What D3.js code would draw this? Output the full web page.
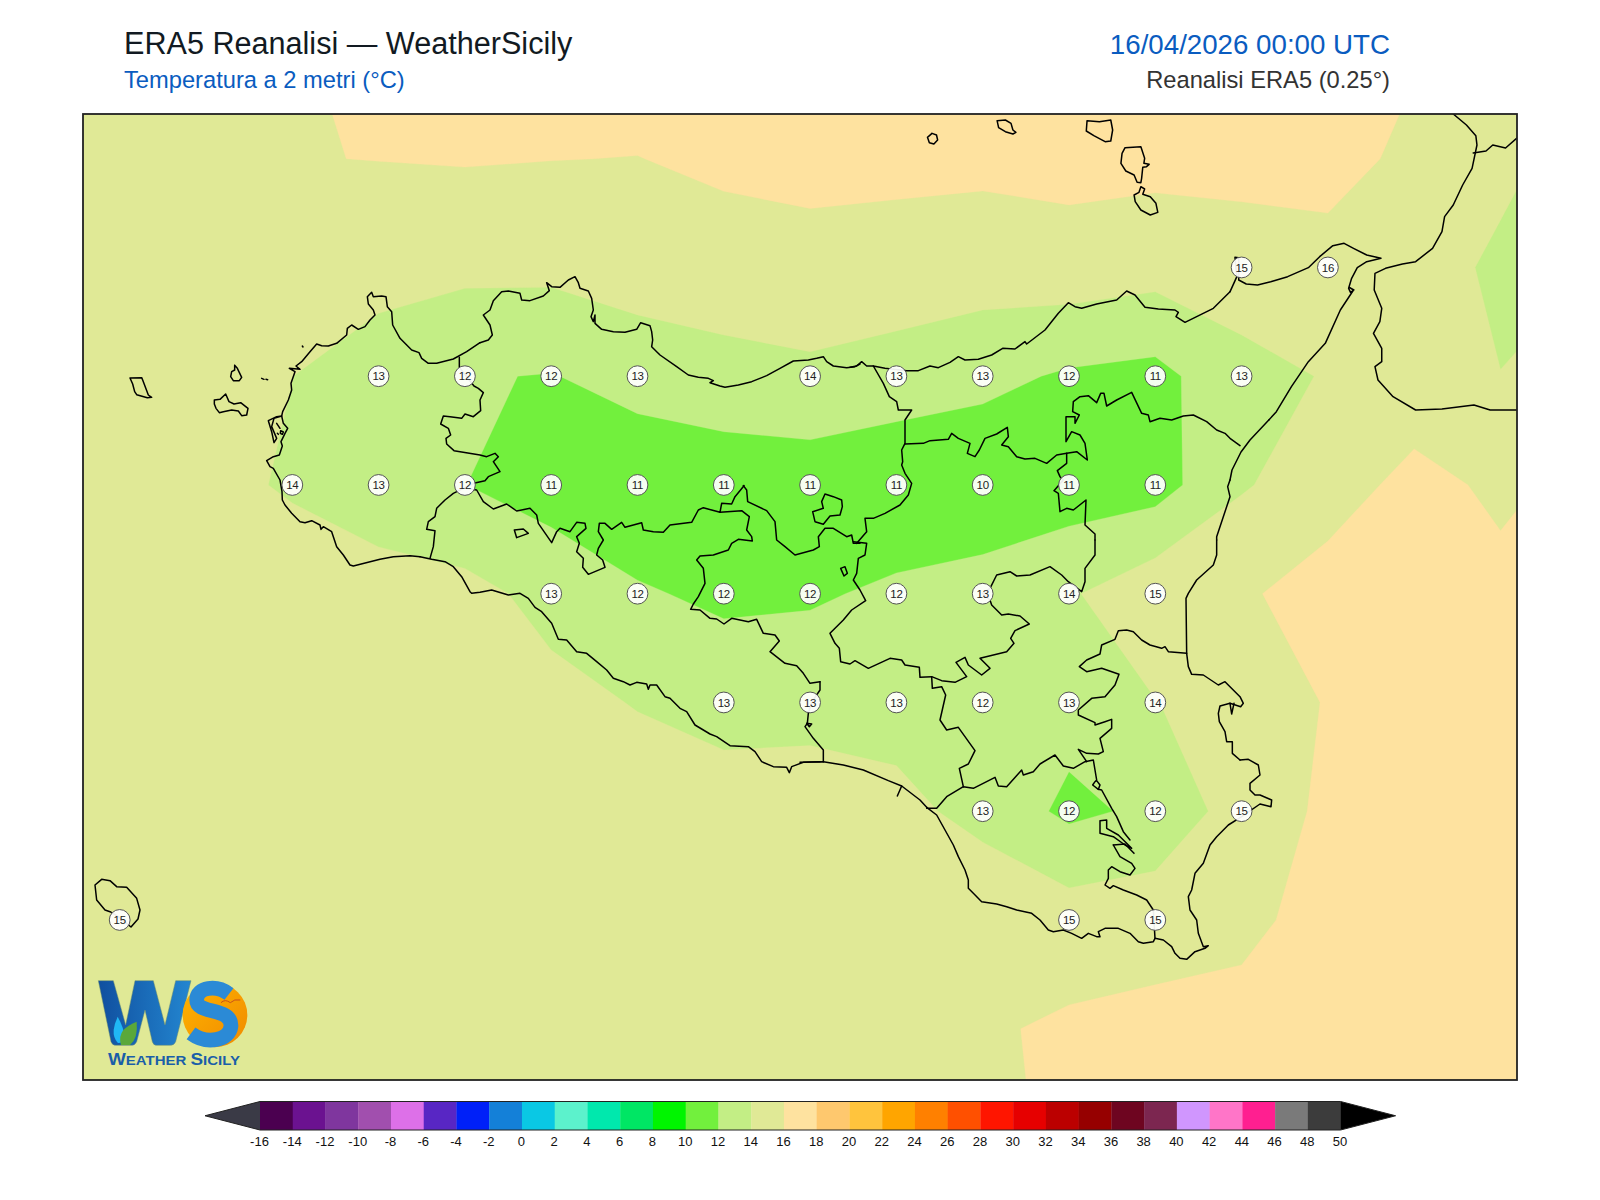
<!DOCTYPE html>
<html><head><meta charset="utf-8">
<script src="https://cdn.jsdelivr.net/npm/d3@7"></script>
<style>html,body{margin:0;padding:0;background:#fff}svg{display:block}text{font-family:"Liberation Sans",Arial,sans-serif}</style>
</head><body><svg id="c" width="1600" height="1200"></svg>
<script>
// ---------- data ----------
const titleText="ERA5 Reanalisi — WeatherSicily", subtitleText="Temperatura a 2 metri (°C)";
const dateText="16/04/2026 00:00 UTC", sourceText="Reanalisi ERA5 (0.25°)";
const gridLons=[11.75,12,12.25,12.5,12.75,13,13.25,13.5,13.75,14,14.25,14.5,14.75,15,15.25,15.5,15.75,16,16.25];
const gridLats=[38.75,38.5,38.25,38,37.75,37.5,37.25,37,36.75,36.5,36.25];
const t3875=[15.5,15.5,15.5,15.7,17,17,17,17,17,17,17,17,17,17,17,17,16.1,15.4,14.3];
const t3850=[15.5,15.5,15.6,15.95,16.03,16.13,16.03,15.97,16.33,16.38,16.18,16.45,16.62,16.57,16.67,16.4,15.74,14.39,13.36];
const t3825=[15,15,14.9,14.8,14.73,14.45,14.46,15.06,15.23,15.55,15.7,14.93,15.16,14.75,14.98,15.6,14.72,13.7,13.95];
const t3800=[14.7,14.5,14.4,14.01,13,12.11,11.93,12.63,13.25,13.55,12.79,12.55,11.74,11.4,13.4,14.115,14.67,14.02,15];
const t3775=[15,14.8,14.52,13.8,13.1,12.02,11.1,10.8,10.8,10.9,10.9,10.4,10.92,11.15,13.83,15,16.66,15.6,16.55];
const t3750=[15.3,15.3,15.2,15,14.68,14.6,13.41,12.17,11.7,11.82,12.26,12.9,13.77,15.4,15.7,16.94,17.2,16.55,17];
const t3725=[15.3,15.3,15.2,15.1,15,14.9,14.55,13.906,13,13,13.1,12.4,12.7,13.95,14.9,16.11,17,17.2,17.2];
const t3700=[15.3,15.3,15.2,15.2,15.2,15.2,15.1,15,15.29,15.52,14.65,13.3,11.6,12.38,15.02,16.31,17,17.2,17.3];
const t3675=[15.2,15.2,15.2,15.2,15.2,15.2,15.2,15.1,15.1,15.1,15.2,15.76,15,15.32,15.4,16.9,17.2,17.3,17.3];
const t3650=[15.2,15.2,15.2,15.2,15.2,15.2,15.2,15.2,15.3,15.3,15.3,15.78,16.28,16.46,16.85,17.1,17.3,17.4,17.4];
const t3625=[15.3,15.3,15.3,15.3,15.3,15.3,15.3,15.4,15.4,15.5,15.5,15.6,16.3,16.6,16.9,17.2,17.4,17.5,17.5];
const tempRows=[t3875,t3850,t3825,t3800,t3775,t3750,t3725,t3700,t3675,t3650,t3625];
const labelLat3825=[15.25,15.5],           labelVal3825=[15,16];
const labelLat3800=[12.75,13,13.25,13.5,14,14.25,14.5,14.75,15,15.25], labelVal3800=[13,12,12,13,14,13,13,12,11,13];
const labelLat3775=[12.5,12.75,13,13.25,13.5,13.75,14,14.25,14.5,14.75,15], labelVal3775=[14,13,12,11,11,11,11,11,10,11,11];
const labelLat3750=[13.25,13.5,13.75,14,14.25,14.5,14.75,15], labelVal3750=[13,12,12,12,12,13,14,15];
const labelLat3725=[13.75,14,14.25,14.5,14.75,15], labelVal3725=[13,13,13,12,13,14];
const labelLat3700=[14.5,14.75,15,15.25], labelVal3700=[13,12,12,15];
const labelLat3675=[12,14.75,15], labelVal3675=[15,15,15];
const labelRows=[[38.25,labelLat3825,labelVal3825],[38,labelLat3800,labelVal3800],[37.75,labelLat3775,labelVal3775],[37.5,labelLat3750,labelVal3750],[37.25,labelLat3725,labelVal3725],[37,labelLat3700,labelVal3700],[36.75,labelLat3675,labelVal3675]];
const levels=[-16,-14,-12,-10,-8,-6,-4,-2,0,2,4,6,8,10,12,14,16,18,20,22,24,26,28,30,32,34,36,38,40,42,44,46,48,50];
const levelColors=["#4b0050","#6b1290","#7f369e","#a14fae","#dd70e8","#5826c4","#0020f8","#1480d8","#0ac8e4","#5cf2cc","#00e8ad","#00e664","#00f500","#72f03d","#c3ee85","#e0e996","#fee29f","#fec86e","#ffc43d","#ffa500","#ff8000","#ff5000","#ff1500","#e60000","#bb0000","#960000","#6e0520","#7c2650","#d096fe","#ff75c8","#ff1f90","#7a7a7a","#3c3c3c"];
// Traced geography: each sheet is a tracing of one part of the basemap, [originX, originY, scaleX, scaleY, lines]
const sheetWest=[120,280,3,3,[
"30,294 65,293 68,300 85,345 95,352 82,353 50,344 44,335 38,312 30,294",
"344,256 352,265 365,292 358,302 340,302 332,290 335,275 344,270 344,256",
"283,360 300,358 317,342 327,365 342,372 362,368 384,385 380,405 365,407 355,393 335,390 310,395 298,398 288,385 283,372 283,360",
"425,295 432,298", "438,298 443,299","547,198 549,201",
"445,422 470,410 485,408 462,415 455,440 470,475 462,488 455,455 445,422",
"470,430 480,445","482,452 490,456 487,463 481,460 482,452","472,460 475,463",
"900,830 870,827 820,830 780,838 700,858 690,855 670,825 650,800 635,755 610,740 603,748 600,735 575,722 555,728 540,725 515,700 495,675 487,660 486,635 480,600 460,565 450,560 440,542 460,530 478,525 487,498 483,485 495,460 503,445 490,430 485,408 488,395 505,360 515,330 513,310 525,275 508,265 540,268 528,258 545,245 570,215 590,192 605,197 625,198 650,190 680,165 682,145 695,135 715,148 735,140 750,120 765,105 760,90 745,72 742,50 755,37 760,50 785,48 798,50 802,80 815,95 818,135 840,175 875,210 897,218 905,235 925,250 950,250 1000,237 1040,215 1080,188",
"1018,232 1018,262 1040,290 1062,318 1075,325 1090,338 1080,360 1082,392 1060,410 1035,402 1025,415 990,410 970,408 962,432 985,445 992,465 978,475 980,492 1002,512 1080,525 1100,530 1125,520 1135,530 1120,545 1140,575 1105,590 1095,602 1068,608 1040,620 1000,640 975,660 950,685 945,710 925,725 920,748 945,752 940,800 930,835"
]];
const sheetNorth=[480,260,3,3,[
"0,248 25,240 37,225 30,195 10,165 30,150 40,122 65,95 85,93 120,100 125,120 150,122 190,108 208,92 200,68 215,80 240,82 265,60 285,50 295,68 300,85 325,93 335,115 340,150 333,170 340,185 345,165 345,190 365,208 400,215 435,217 470,208 482,188 510,197 515,215 518,240 515,260 540,285 590,320 625,345 655,352 685,355 700,362 690,368 720,378 735,382 775,375 815,365 860,347 900,325 940,303 985,300 1010,295 1030,290 1040,305 1060,318 1100,323 1125,320 1140,312",
"790,677 800,690 803,725 860,752 885,785 890,840 915,860 945,885 1000,870 1018,860 1015,830 1035,805 1060,805 1100,830 1115,825 1120,850 1140,850",
"1035,702 1060,710 1085,720 1087,740 1080,765 1050,768 1030,793 1005,785 998,755 1030,745 1025,725 1035,702"
]];
const sheetNorthEast=[850,280,3,3,[
"0,262 20,258 35,245 50,258 70,258 105,265 170,272 205,272 240,258 265,263 300,247 325,230 345,240 385,238 425,225 458,205 495,207 525,185 530,192 585,150 625,100 655,68 675,80 695,85 740,72 800,60 830,33 855,45 885,82 925,87 975,90 985,97 978,110 1005,127 1040,110 1090,85 1140,35",
"70,258 100,310 118,350 140,365 145,390 185,390 165,420 165,490 155,510 158,545 155,555 165,580 185,610 175,645 150,675 105,700 70,715 45,715 50,755 20,790",
"165,492 220,490 240,482 295,478 305,460 325,475 360,490 352,520 375,530 388,510 405,475 440,462 472,442 475,470 455,495 475,500 500,530 525,537 555,535 590,550 620,525 650,520 680,515 712,540 705,490 690,465 665,455 648,485 648,410 675,410 675,430 688,405 668,395 670,365 690,350 715,347 740,368 752,340 762,340 770,378 800,360 845,337 875,400 895,405 900,425 930,415 965,420 1000,408 1030,405 1070,425 1100,450 1125,460 1140,475 1170,497",
"650,520 650,550 622,572 630,590 640,600 612,632 625,640 630,695 650,685 670,690 708,660 705,735 735,762 735,780",
"1140,600 1133,620 1140,650 1100,770 1100,780"
]];
const sheetEastLink=[0,0,1,1,["1268.8,420 1250,440 1241,452 1232,470 1230,480"]];
const sheetSouthWest=[420,480,3,3,[
"0,230 35,238 75,245 100,260 125,290 150,335 155,340 180,337 215,330 265,345 300,340 325,355 345,382 365,395 395,430 415,478 440,480 470,515 500,520 530,545 560,570 580,595 610,605 630,615 650,607 680,612 685,628 690,615 710,615 735,650 750,655 780,685 800,695 825,735 870,762 890,770 930,797 985,800 1005,815 1025,845 1060,860 1100,862 1108,878 1115,860 1150,847 1200,845",
"135,25 170,30 190,65 220,87 260,72 290,93 330,85 350,105 355,130 395,188 410,155 420,145 450,155 470,127 495,130 498,145 470,170 478,190 470,215 490,235 488,262 505,283 555,262 548,240 530,225 535,205 550,180 535,155 538,130 555,130 575,148 605,127 615,142 665,128 670,150 700,155 730,157 750,135 815,127 835,90 850,83 900,97 905,70 935,72 945,50 972,17",
"900,97 965,92 988,110 980,150 995,170 997,183 955,178 935,190 925,210 880,225 840,228 830,240 850,265 855,310 835,350 820,372 812,388 840,390 870,415 890,417 912,432 935,415 985,425 1010,418 1030,460 1065,465 1078,483 1050,515 1095,550 1130,557 1150,580 1170,610 1200,605",
"283,150 310,147 325,160 290,173 283,150"
]];
const sheetCentre=[800,540,3,3,[
"0,667 70,665 130,675 190,690 265,722 305,738 360,780 380,802","305,738 292,768",
"60,425 60,450 35,487 25,520 22,550 15,560 40,595 70,630 70,665",
"20,550 35,552 28,560 20,550",
"160,5 200,10 195,45 175,55 170,100 160,120 180,150 197,182 155,210 130,240 90,280 105,310 118,325 122,365 150,372 165,362 205,385 270,355 305,360 315,375 358,382 360,412 395,410 425,422 465,427 500,410 468,367 495,352 505,375 545,405 570,385 540,355 620,335 642,310 632,295 645,272 688,252 660,228 625,222 605,225 575,195 570,180 548,160 570,145 590,105 630,95 650,108 690,105 750,80 785,105 805,125 845,155 855,125 855,85 885,45 885,0",
"122,85 135,80 142,100 132,108 122,85",
"395,410 397,445 425,440 437,465 420,540 440,570 475,562 525,632 505,672 478,685 490,740",
"380,805 410,805 440,770 490,740 520,745 585,712 595,738 620,740 665,690 670,705 700,695 720,672 765,645 790,678 820,685 855,665 880,660 890,720 885,725 878,735 895,748 900,735 890,722",
"895,748 905,750 935,805 950,830 970,875 990,900",
"1160,340 1105,335 1095,320 1085,325 1050,315 1025,300 1000,275 980,270 955,272 945,298 905,315 900,342 860,360 838,380 860,395 905,385 957,403 945,435 915,470 875,475 835,510 835,525 885,548 885,555 915,545 935,538 935,565 900,595 910,635 895,642 860,640 835,628 860,665",
"1250,0 1250,45 1240,75 1190,120 1165,160 1158,175 1160,340 1165,380 1175,403 1210,405 1255,435 1275,425 1320,470 1330,490 1322,500 1290,490 1260,498 1255,520 1258,545 1275,575 1280,605 1297,605 1297,640 1320,660",
"1290,490 1295,522 1302,490"
]];
const sheetSouthEast=[880,720,3,3,[
"1080,120 1105,118 1135,135 1140,165 1110,190 1110,210 1125,225 1140,225 1175,240 1173,260 1140,252 1085,290 1045,315 1010,350 990,375 970,430 945,460 935,510 925,530 930,570 950,600 955,640 970,680 985,677 975,685 945,695 920,718 900,715 885,700 875,680 850,660 825,655 820,665 790,670 775,665 750,640 715,625 675,625 655,635 660,650 650,650 625,640 605,655 575,640 550,630 520,635 505,630 480,600 455,580 410,570 380,560 350,552 305,545 280,520 265,505 265,480 255,450 235,410 220,375 195,330 170,285 140,262",
"660,302 680,300 680,325 715,345 755,385 735,375 700,350 660,340 660,302",
"700,375 735,372 762,400","700,375 720,410 755,430 765,445 750,465 720,455 695,440 685,450 685,475 675,495 690,505 700,497 730,510 770,525 800,540 820,570 825,655"
]];
const sheetStrait=[900,105,2.657,3,[
"85,85 97,90 100,105 90,117 78,113 73,97 85,85",
"258,47 280,45 295,55 300,75 308,82 300,87 280,80 262,68 258,47",
"497,47 530,50 560,45 565,75 560,108 545,110 515,92 495,78 497,47",
"598,128 640,125 650,160 648,175 662,178 655,185 645,187 642,220 640,233 630,232 622,210 600,198 587,175 590,145 598,128",
"640,245 650,252 645,268 665,275 680,295 685,322 665,330 640,315 625,290 622,270 635,262 640,245",
"877,560 895,515 890,457 900,458 900,525 920,537 950,540 985,530 1030,515 1085,488 1115,455 1150,422 1180,415 1205,430 1240,450 1278,460 1240,470 1215,488 1200,520 1192,550 1197,562 1206,555 1195,548 1205,555 1170,615 1130,715 1085,770 1040,845 1000,920 980,945",
"1470,27 1505,60 1530,92 1533,120 1520,190 1495,240 1470,300 1447,335 1440,380 1415,430 1370,470 1335,477 1290,490 1262,505 1260,555 1280,610 1275,650 1258,685 1280,730 1280,770 1262,785 1270,825 1310,875 1370,915 1440,912 1525,900 1568,915 1639,915",
"1523,144 1557,138 1575,120 1609,129 1639,99"
]];
const sheetPantelleria=[85,850,3,3,["30,105 50,88 75,92 95,110 125,112 155,145 165,180 159,207 138,231 100,200 75,185 60,180 35,150 30,105"]];
const sheets=[sheetWest,sheetNorth,sheetNorthEast,sheetEastLink,sheetSouthWest,sheetCentre,sheetSouthEast,sheetStrait,sheetPantelleria];

// ---------- scales ----------
const svg=d3.select("#c");
const fx0=83,fx1=1517,fy0=114,fy1=1080;
const pxToLon=d3.scaleLinear([292.3,1155.3],[12.5,15]);
const pxToLat=d3.scaleLinear([376.2,811.2],[38,37]);
const x=d3.scaleLinear([pxToLon(fx0),pxToLon(fx1)],[fx0,fx1]);
const y=d3.scaleLinear([pxToLat(fy0),pxToLat(fy1)],[fy0,fy1]);
const fillScale=d3.scaleThreshold().domain(levels.slice(1,-1)).range(levelColors);

// ---------- header ----------
svg.append("text").attr("x",124).attr("y",53.5).attr("font-size",30.6).attr("fill","#121a22").text(titleText);
svg.append("text").attr("x",124).attr("y",87.5).attr("font-size",23.7).attr("fill","#0a5cc0").text(subtitleText);
svg.append("text").attr("x",1390).attr("y",54).attr("text-anchor","end").attr("font-size",27.7).attr("fill","#0a5cc0").text(dateText);
svg.append("text").attr("x",1390).attr("y",87.5).attr("text-anchor","end").attr("font-size",23.7).attr("fill","#333").text(sourceText);

// ---------- map ----------
svg.append("clipPath").attr("id","frame").append("rect").attr("x",fx0).attr("y",fy0).attr("width",fx1-fx0).attr("height",fy1-fy0);
const map=svg.append("g").attr("clip-path","url(#frame)");
map.append("rect").attr("x",fx0).attr("y",fy0).attr("width",fx1-fx0).attr("height",fy1-fy0).attr("fill",fillScale(9));
const nx=gridLons.length, ny=gridLats.length;
const contourGen=d3.contours().size([nx,ny]).smooth(true).thresholds([10,12,14,16]);
const gridToScreen=d3.geoTransform({point(cx,cy){
  this.stream.point(x(gridLons[0]+(cx-0.5)*0.25), y(gridLats[0]-(cy-0.5)*0.25));
}});
const geoPath=d3.geoPath(gridToScreen);
map.selectAll("path.band").data(contourGen(tempRows.flat())).join("path").attr("class","band")
  .attr("d",geoPath).attr("fill",d=>fillScale(d.value)).attr("stroke",d=>fillScale(d.value)).attr("stroke-width",0.3);

const traced=d3.line().x(d=>x(pxToLon(d[0]))).y(d=>y(pxToLat(d[1])));
const lines=[];
for(const [ox,oy,kx,ky,ls] of sheets) for(const s of ls)
  lines.push(s.split(" ").map(p=>{const [a,b]=p.split(",").map(Number);return [ox+a/kx,oy+b/ky];}));
map.selectAll("path.geo").data(lines).join("path").attr("class","geo").attr("d",traced)
  .attr("fill","none").attr("stroke","#000").attr("stroke-width",1.5).attr("stroke-linejoin","round").attr("stroke-linecap","round");

// ---------- grid labels ----------
const labels=labelRows.flatMap(([lat,lons,vals])=>lons.map((lon,i)=>({lat,lon,v:vals[i]})));
const lg=map.selectAll("g.lab").data(labels).join("g").attr("class","lab").attr("transform",d=>`translate(${x(d.lon)},${y(d.lat)})`);
lg.append("circle").attr("r",10.4).attr("fill","#fff").attr("fill-opacity",0.93).attr("stroke","#555").attr("stroke-width",1);
lg.append("text").attr("text-anchor","middle").attr("dy","0.36em").attr("font-size",11.5).attr("fill","#222").attr("letter-spacing","-0.3").text(d=>d.v);

// ---------- logo ----------
const logo=map.append("g").attr("transform","translate(85,950) scale(0.3333)");
const defs=svg.append("defs");
const g1=defs.append("linearGradient").attr("id","wg").attr("x1",0).attr("x2",1).attr("y1",0).attr("y2",0);
g1.append("stop").attr("offset","0%").attr("stop-color","#104f9f");g1.append("stop").attr("offset","100%").attr("stop-color","#2386d0");
const g2=defs.append("linearGradient").attr("id","og").attr("x1",0).attr("x2",1).attr("y1",0).attr("y2",1);
g2.append("stop").attr("offset","0%").attr("stop-color","#ffb400");g2.append("stop").attr("offset","100%").attr("stop-color","#f08a00");
logo.append("path").attr("d","M40,92L85,92L122,225L150,92L205,92L240,225L272,92L318,92L272,275Q268,286 255,286L215,286Q205,286 202,275L180,180L155,275Q150,286 140,286L92,286Q82,286 78,275Z").attr("fill","url(#wg)").attr("stroke","#6f8f70").attr("stroke-width",1.5);
logo.append("path").attr("d","M98,200Q118,235 118,262Q112,282 98,278Q84,262 86,240Q88,222 98,200Z").attr("fill","#20b8f5");
logo.append("path").attr("d","M155,215Q160,265 135,285L108,285Q100,260 115,240Q130,225 155,215Z").attr("fill","#5aa83a");
logo.append("circle").attr("cx",390).attr("cy",195).attr("r",97).attr("fill","url(#og)");
logo.append("path").attr("d","M432,132C395,104 335,110 335,150C335,195 440,170 438,228C434,272 365,285 318,250").attr("fill","none").attr("stroke","#2b8ad6").attr("stroke-width",44).attr("stroke-linecap","butt");
logo.append("path").attr("d","M408,158Q420,146 436,158Q448,146 466,150").attr("fill","none").attr("stroke","#c8501a").attr("stroke-width",3);
const lt=map.append("text").attr("x",108).attr("y",1065).attr("font-weight","bold").attr("fill","#1a5ea8").attr("font-size",13.5).attr("textLength",132).attr("lengthAdjust","spacingAndGlyphs");
lt.append("tspan").attr("font-size",17).text("W");lt.append("tspan").text("EATHER ");lt.append("tspan").attr("font-size",17).text("S");lt.append("tspan").text("ICILY");

svg.append("rect").attr("x",fx0).attr("y",fy0).attr("width",fx1-fx0).attr("height",fy1-fy0).attr("fill","none").attr("stroke","#222").attr("stroke-width",1.8);

// ---------- colour bar ----------
const cbx=d3.scaleLinear([levels[0],levels[levels.length-1]],[260,1340.6]);
const cbTop=1101.5,cbBot=1130;
const cb=svg.append("g");
cb.selectAll("rect").data(levelColors).join("rect").attr("x",(d,i)=>cbx(levels[i])).attr("y",cbTop)
  .attr("width",(d,i)=>cbx(levels[i+1])-cbx(levels[i])+0.3).attr("height",cbBot-cbTop).attr("fill",d=>d);
const cbMid=(cbTop+cbBot)/2;
cb.append("path").attr("d",d3.line()([[cbx(-16),cbTop],[cbx(-16)-55,cbMid],[cbx(-16),cbBot]])+"Z").attr("fill","#3a3a46");
cb.append("path").attr("d",d3.line()([[cbx(50),cbTop],[cbx(50)+55,cbMid],[cbx(50),cbBot]])+"Z").attr("fill","#000");
cb.append("path").attr("d",d3.line()([[cbx(-16),cbTop],[cbx(-16)-55,cbMid],[cbx(-16),cbBot],[cbx(50),cbBot],[cbx(50)+55,cbMid],[cbx(50),cbTop]])+"Z").attr("fill","none").attr("stroke","#222").attr("stroke-width",1);
const ax=svg.append("g").attr("transform",`translate(-1,${cbBot})`).call(d3.axisBottom(cbx).tickValues(levels).tickFormat(d=>String(d)).tickSize(0).tickPadding(7));
ax.select(".domain").remove();
ax.selectAll("text").attr("font-size",13).attr("font-family","Liberation Sans").attr("fill","#111");
</script></body></html>
